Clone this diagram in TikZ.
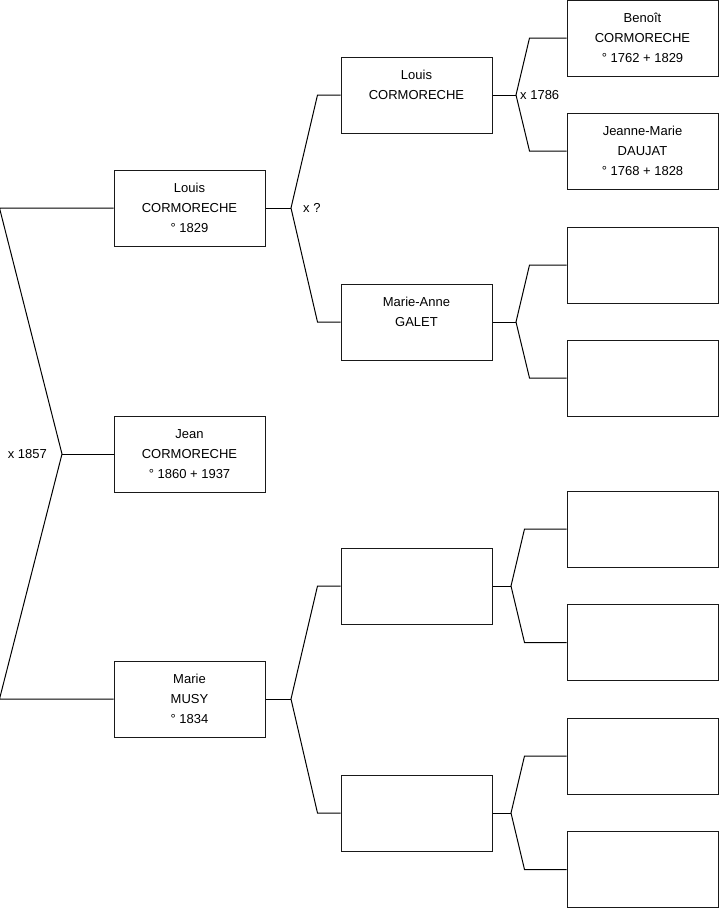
\documentclass[tikz,border=0pt]{standalone}
\usepackage{fontspec}
\setmainfont{Liberation Sans}
\usetikzlibrary{positioning}

\begin{document}
\begin{tikzpicture}[
    x=1pt, y=-1pt,
    person/.style={rectangle, draw=black!90, line width=1pt, minimum width=151pt, minimum height=76pt, align=center, font=\fontsize{13}{20}\selectfont},
    link/.style={draw=black, line width=1pt},
    union/.style={font=\fontsize{13}{16}\selectfont, inner sep=1pt}
]
\useasboundingbox (0,0) rectangle (719,908);

% Child and parents
\node[person] (father) at (189.5, 208) {Louis\\CORMORECHE\\° 1829};
\node[person] (child) at (189.5, 454) {Jean\\CORMORECHE\\° 1860 + 1937};
\node[person] (mother) at (189.5, 699) {Marie\\MUSY\\° 1834};

% Grandparents
\node[person] (gpa1) at (416.5, 95) {Louis\\CORMORECHE\\~};
\node[person] (gma1) at (416.5, 322) {Marie-Anne\\GALET\\~};
\node[person] (gpa2) at (416.5, 586) {};
\node[person] (gma2) at (416.5, 813) {};

% Great-grandparents
\node[person] (ggpa1) at (642.5, 38) {Benoît\\CORMORECHE\\° 1762 + 1829};
\node[person] (ggma1) at (642.5, 151) {Jeanne-Marie\\DAUJAT\\° 1768 + 1828};
\node[person] (ggpa2) at (642.5, 265) {};
\node[person] (ggma2) at (642.5, 378) {};
\node[person] (ggpa3) at (642.5, 529) {};
\node[person] (ggma3) at (642.5, 642.5) {};
\node[person] (ggpa4) at (642.5, 756) {};
\node[person] (ggma4) at (642.5, 869.5) {};

% Fork points
\coordinate (v0) at (62, 454);
\coordinate (v1) at (291, 208);
\coordinate (v2) at (291, 699);
\coordinate (v3) at (516, 95);
\coordinate (v4) at (516, 322);
\coordinate (v5) at (511, 586);
\coordinate (v6) at (511, 813);

% Marriage labels
\node[union, anchor=east] (m0) at ([xshift=-14pt]v0) {x 1857};
\node[union, anchor=west] (m1) at ([xshift=11pt]v1) {x ?};
\node[union, anchor=west] (m3) at ([xshift=3pt]v3) {x 1786};

% Links
\draw[link] (father.west) -- ++(-114,0) -- (v0) -- ([xshift=-114pt]mother.west) -- (mother.west);
\draw[link] (v0) -- (child.west);

\draw[link] (father.east) -- (v1);
\draw[link] (gpa1.west) -- ++(-23,0) -- (v1) -- ([xshift=-23pt]gma1.west) -- (gma1.west);
\draw[link] (mother.east) -- (v2);
\draw[link] (gpa2.west) -- ++(-23,0) -- (v2) -- ([xshift=-23pt]gma2.west) -- (gma2.west);

\draw[link] (gpa1.east) -- (v3);
\draw[link] (ggpa1.west) -- ++(-37,0) -- (v3) -- ([xshift=-37pt]ggma1.west) -- (ggma1.west);
\draw[link] (gma1.east) -- (v4);
\draw[link] (ggpa2.west) -- ++(-37,0) -- (v4) -- ([xshift=-37pt]ggma2.west) -- (ggma2.west);
\draw[link] (gpa2.east) -- (v5);
\draw[link] (ggpa3.west) -- ++(-42,0) -- (v5) -- ([xshift=-42pt]ggma3.west) -- (ggma3.west);
\draw[link] (gma2.east) -- (v6);
\draw[link] (ggpa4.west) -- ++(-42,0) -- (v6) -- ([xshift=-42pt]ggma4.west) -- (ggma4.west);

\end{tikzpicture}
\end{document}
